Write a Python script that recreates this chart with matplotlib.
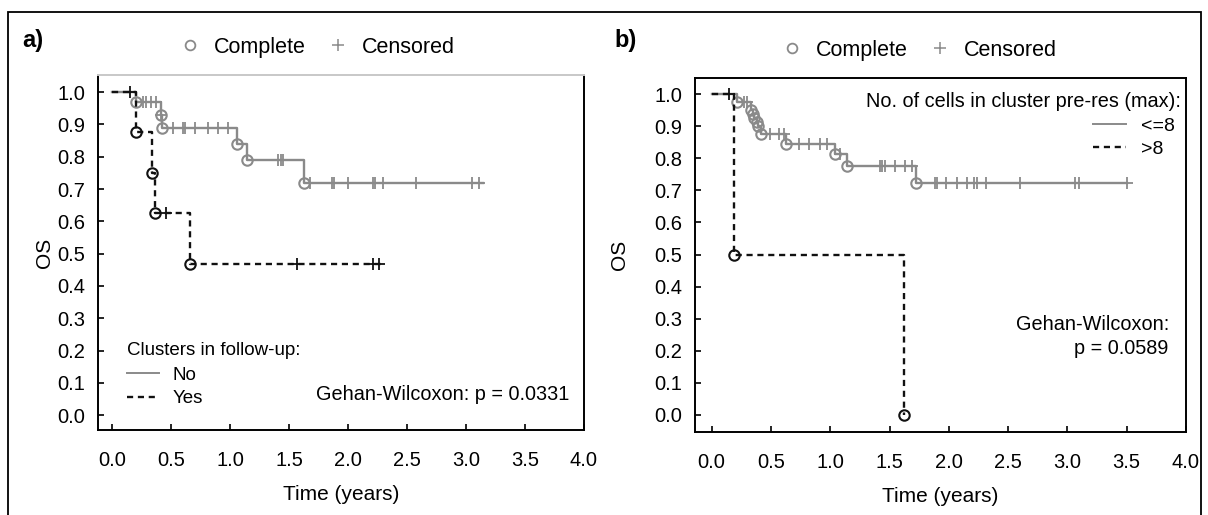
import matplotlib
matplotlib.use("Agg")
import matplotlib.pyplot as plt
from matplotlib.lines import Line2D
from matplotlib.patches import Rectangle

plt.rcParams["font.family"] = ["Liberation Sans", "DejaVu Sans"]

GRAY = "#8a8a8a"
BLACK = "#111111"

# panel a: clusters in follow-up
a_no_t = [0.0, 0.20, 0.41, 0.42, 1.06, 1.14, 1.63, 3.14]
a_no_s = [1.0, 0.969, 0.93, 0.89, 0.84, 0.79, 0.72, 0.72]
a_no_ev_t = [0.20, 0.41, 0.42, 1.06, 1.14, 1.63]
a_no_ev_s = [0.969, 0.93, 0.89, 0.84, 0.79, 0.72]
a_no_cen_t = [0.26, 0.29, 0.33, 0.37, 0.41, 0.52, 0.60, 0.62, 0.70, 0.81, 0.90, 0.98,
              1.41, 1.43, 1.45, 1.68, 1.86, 1.88, 2.00, 2.21, 2.23, 2.30, 2.58, 3.05, 3.11]
a_no_cen_s = [0.969] * 4 + [0.93] + [0.89] * 7 + [0.79] * 3 + [0.72] * 10

a_yes_t = [0.0, 0.20, 0.34, 0.36, 0.66, 2.31]
a_yes_s = [1.0, 0.875, 0.75, 0.625, 0.469, 0.469]
a_yes_ev_t = [0.20, 0.34, 0.36, 0.66]
a_yes_ev_s = [0.875, 0.75, 0.625, 0.469]
a_yes_cen_t = [0.15, 0.46, 1.57, 2.21, 2.26]
a_yes_cen_s = [1.0, 0.625, 0.469, 0.469, 0.469]

# panel b: no. of cells in cluster pre-res
b_le8_t = [0.0, 0.21, 0.33, 0.35, 0.36, 0.38, 0.39, 0.42, 0.63, 1.04, 1.14, 1.72, 3.50]
b_le8_s = [1.0, 0.975, 0.95, 0.937, 0.925, 0.912, 0.90, 0.875, 0.845, 0.813, 0.775, 0.722, 0.722]
b_le8_ev_t = [0.21, 0.33, 0.35, 0.36, 0.38, 0.39, 0.42, 0.63, 1.04, 1.14, 1.72]
b_le8_ev_s = [0.975, 0.95, 0.937, 0.925, 0.912, 0.90, 0.875, 0.845, 0.813, 0.775, 0.722]
b_le8_cen_t = [0.27, 0.30, 0.49, 0.57, 0.61, 0.74, 0.82, 0.91, 0.97, 1.08,
               1.42, 1.44, 1.46, 1.55, 1.63, 1.69,
               1.88, 1.90, 1.98, 2.07, 2.15, 2.21, 2.24, 2.31, 2.60, 3.06, 3.10, 3.50]
b_le8_cen_s = [0.975] * 2 + [0.875] * 3 + [0.845] * 4 + [0.813] + [0.775] * 6 + [0.722] * 12

b_gt8_t = [0.0, 0.19, 1.62]
b_gt8_s = [1.0, 0.5, 0.0]
b_gt8_ev_t = [0.19, 1.62]
b_gt8_ev_s = [0.5, 0.0]
b_gt8_cen_t = [0.15]
b_gt8_cen_s = [1.0]

x_ticks = [0.0, 0.5, 1.0, 1.5, 2.0, 2.5, 3.0, 3.5, 4.0]
y_ticks = [0.0, 0.1, 0.2, 0.3, 0.4, 0.5, 0.6, 0.7, 0.8, 0.9, 1.0]

DASH = (0, (2.6, 2.0))
W, H = 1208, 515


def draw_curve(ax, t, s, ev_t, ev_s, cen_t, cen_s, color, ls):
    ax.plot(t, s, drawstyle="steps-post", color=color, lw=1.7, ls=ls)
    ax.plot(ev_t, ev_s, ls="none", marker="o", ms=7.5, mfc="none", mec=color, mew=1.5)
    ax.plot(cen_t, cen_s, ls="none", marker="+", ms=9, mec=color, mew=1.3)


def style_axes(ax, xlim, ylim, os_x):
    ax.set_xlim(*xlim)
    ax.set_ylim(*ylim)
    ax.set_xticks(x_ticks)
    ax.set_yticks(y_ticks)
    ax.set_xticklabels([f"{v:.1f}" for v in x_ticks])
    ax.set_yticklabels([f"{v:.1f}" for v in y_ticks])
    ax.tick_params(direction="in", length=4, width=1.2, labelsize=14.5)
    ax.tick_params(axis="x", pad=15)
    ax.tick_params(axis="y", pad=9)
    for sp in ax.spines.values():
        sp.set_linewidth(1.4)
        sp.set_color("black")
    ax.set_ylabel("OS", fontsize=15)
    ax.yaxis.set_label_coords(os_x, 0.5)
    ax.set_xlabel("Time (years)", fontsize=15, labelpad=11)


def top_legend(ax, x):
    handles = [
        Line2D([], [], ls="none", marker="o", ms=7, mfc="none", mec=GRAY, mew=1.3),
        Line2D([], [], ls="none", marker="+", ms=9, mec=GRAY, mew=1.1),
    ]
    leg = ax.legend(handles, ["Complete", "Censored"], loc="lower center",
                    bbox_to_anchor=(x, 1.0), ncol=2, frameon=False, fontsize=15.5,
                    handletextpad=0.1, columnspacing=0.5, borderaxespad=0.4)
    ax.add_artist(leg)


fig = plt.figure(figsize=(W / 100, H / 100), dpi=100)
fig.patches.append(Rectangle((8 / W, -0.05), 1193 / W, 1.05 - 12 / H,
                             transform=fig.transFigure, fill=False, ec="black", lw=1.3))

# ---- panel a
ax1 = fig.add_axes([98 / W, 1 - 430 / H, 486 / W, 355 / H])
draw_curve(ax1, a_no_t, a_no_s, a_no_ev_t, a_no_ev_s, a_no_cen_t, a_no_cen_s, GRAY, "-")
draw_curve(ax1, a_yes_t, a_yes_s, a_yes_ev_t, a_yes_ev_s, a_yes_cen_t, a_yes_cen_s, BLACK, DASH)
style_axes(ax1, (-0.12, 4.0), (-0.046, 1.053), -0.09)
ax1.spines["top"].set_color("#c8c8c8")
top_legend(ax1, 0.44)

ax1.text(0.06, 0.225, "Clusters in follow-up:", transform=ax1.transAxes,
         fontsize=13.5, va="center")
h1 = [Line2D([], [], color=GRAY, lw=1.4), Line2D([], [], color=BLACK, lw=1.7, ls=DASH)]
ax1.legend(h1, ["No", "Yes"], loc="upper left", bbox_to_anchor=(0.045, 0.2),
           frameon=False, fontsize=13.5, handlelength=1.7, handletextpad=0.7,
           labelspacing=0.35, borderaxespad=0)
ax1.text(0.97, 0.1, "Gehan-Wilcoxon: p = 0.0331", transform=ax1.transAxes,
         fontsize=14.3, ha="right", va="center")

# ---- panel b
ax2 = fig.add_axes([695 / W, 1 - 432 / H, 491 / W, 354 / H])
draw_curve(ax2, b_le8_t, b_le8_s, b_le8_ev_t, b_le8_ev_s, b_le8_cen_t, b_le8_cen_s, GRAY, "-")
draw_curve(ax2, b_gt8_t, b_gt8_s, b_gt8_ev_t, b_gt8_ev_s, b_gt8_cen_t, b_gt8_cen_s, BLACK, DASH)
style_axes(ax2, (-0.14, 4.0), (-0.053, 1.05), -0.135)
top_legend(ax2, 0.445)

ax2.text(0.99, 0.935, "No. of cells in cluster pre-res (max):", transform=ax2.transAxes,
         fontsize=14.3, ha="right", va="center")
h2 = [Line2D([], [], color=GRAY, lw=1.4), Line2D([], [], color=BLACK, lw=1.7, ls=DASH)]
ax2.legend(h2, ["<=8", ">8"], loc="upper right", bbox_to_anchor=(1.0, 0.92),
           frameon=False, fontsize=14, handlelength=1.7, handletextpad=0.8,
           labelspacing=0.3, borderaxespad=0.15)
ax2.text(0.965, 0.305, "Gehan-Wilcoxon:", transform=ax2.transAxes, fontsize=14.3,
         ha="right", va="center")
ax2.text(0.965, 0.235, "p = 0.0589", transform=ax2.transAxes, fontsize=14.3,
         ha="right", va="center")

fig.text(22 / W, 1 - 40 / H, "a)", fontsize=17, fontweight="bold", va="center")
fig.text(614 / W, 1 - 40 / H, "b)", fontsize=17, fontweight="bold", va="center")

fig.savefig("out.png", dpi=100)
